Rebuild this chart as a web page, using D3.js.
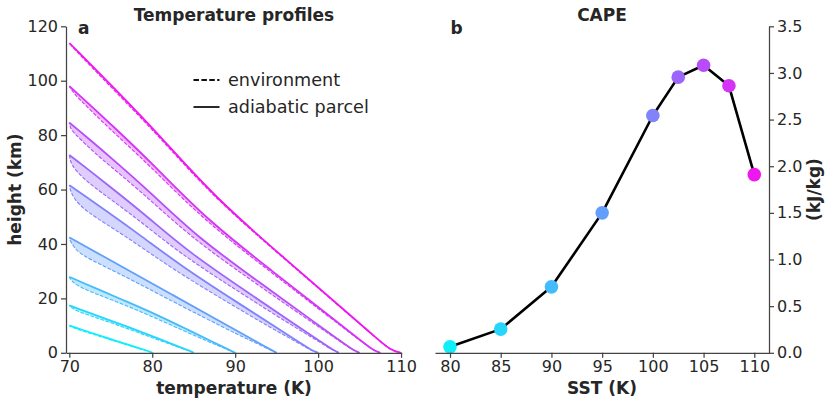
<!DOCTYPE html>
<html>
<head>
<meta charset="utf-8">
<script src="https://cdn.jsdelivr.net/npm/d3@7"></script>
<style>
  html, body { margin: 0; padding: 0; background: #fff; }
  svg { display: block; }
  text { font-family: "DejaVu Sans", sans-serif; fill: #262626; }
</style>
</head>
<body>
<svg id="chart" width="831" height="404"></svg>
<script>
// ---------------- data ----------------
const sst = [80, 85, 90, 95, 100, 102.5, 105, 107.5, 110];
const cape = [0.064, 0.254, 0.707, 1.50, 2.544, 2.955, 3.083, 2.862, 1.91];
const colors = ["#10eefa", "#28d6fb", "#44bcfc", "#629ffc", "#8083fb", "#9c66fa", "#b84cf8", "#d533f5", "#ef17f0"];

// heights (km) of the sampled points of each profile
const profileZ = [
  [0, 0.4, 0.8, 1.5, 3, 5, 7, 8.5, 9.3, 9.7, 10],
  [0, 0.5, 0.87, 2.61, 5.22, 8.7, 12.18, 14.79, 16.18, 16.88, 17.4],
  [0, 0.6, 1.4, 4.19, 8.37, 13.95, 19.53, 23.72, 25.95, 27.06, 27.9],
  [0, 0.8, 2.12, 6.36, 12.72, 21.2, 29.68, 36.04, 39.43, 41.13, 42.4],
  [0, 0.8, 3.08, 9.24, 18.48, 30.8, 43.12, 52.36, 57.29, 59.75, 61.6],
  [0, 1.0, 3.64, 10.9, 21.81, 36.35, 50.89, 61.8, 67.61, 70.52, 72.7],
  [0, 1.0, 4.23, 12.69, 25.38, 42.3, 59.22, 71.91, 78.68, 82.06, 84.6],
  [0, 1.0, 4.9, 14.7, 29.4, 49, 68.6, 83.3, 91.14, 95.06, 98],
  [0, 1.0, 5.69, 17.07, 34.14, 56.9, 79.66, 96.73, 105.83, 110.39, 113.8]
];
// adiabatic parcel temperature (K)
const parcelT = [
  [80, 79.75, 79.34, 78.61, 77.07, 75, 73, 71.5, 70.7, 70.3, 70],
  [85, 84.7, 84.39, 82.92, 80.73, 77.8, 74.68, 72.34, 71.09, 70.47, 70],
  [90, 89.6, 89.06, 87.18, 84.36, 80.6, 76.36, 73.18, 71.48, 70.64, 70],
  [95, 94.5, 93.72, 91.23, 87.49, 82.5, 77.5, 73.75, 71.75, 70.75, 70],
  [100, 99.3, 98.14, 95.0, 90.28, 84.0, 78.6, 74.35, 72.04, 70.88, 70],
  [102.5, 101.8, 100.52, 96.98, 91.71, 84.65, 79.09, 74.61, 72.17, 70.94, 70],
  [105, 104.2, 102.74, 98.91, 93.16, 85.5, 79.7, 74.95, 72.33, 71.01, 70],
  [107.5, 106.6, 104.97, 100.88, 94.74, 86.55, 80.33, 75.26, 72.48, 71.07, 70],
  [110, 108.7, 106.93, 102.63, 96.19, 87.6, 80.96, 75.58, 72.63, 71.14, 70]
];
// environment temperature (K)
const envT = [
  [80, 79.73, 79.3, 78.49, 76.88, 74.74, 72.68, 71.06, 70.45, 70.12, 70],
  [85, 84.66, 84.31, 82.64, 80.29, 77.2, 73.96, 71.34, 70.45, 70.12, 70],
  [90, 89.53, 88.92, 86.69, 83.59, 79.55, 75.1, 71.43, 70.45, 70.12, 70],
  [95, 94.4, 93.52, 90.53, 86.39, 81.0, 75.7, 71.25, 70.45, 70.12, 70],
  [100, 99.2, 97.93, 94.26, 89.12, 82.42, 76.71, 71.72, 70.45, 70.12, 70],
  [102.5, 101.72, 100.35, 96.38, 90.77, 83.37, 77.56, 72.48, 70.55, 70.12, 70],
  [105, 104.15, 102.63, 98.52, 92.55, 84.67, 78.71, 73.57, 71.28, 70.13, 70],
  [107.5, 106.57, 104.91, 100.67, 94.41, 86.1, 79.79, 74.51, 71.91, 70.59, 70],
  [110, 108.69, 106.91, 102.56, 96.08, 87.45, 80.78, 75.33, 72.44, 70.98, 70]
];

const tempTicks = [70, 80, 90, 100, 110];
const heightTicks = [0, 20, 40, 60, 80, 100, 120];
const sstTicks = [80, 85, 90, 95, 100, 105, 110];
const capeTicks = [0, 0.5, 1.0, 1.5, 2.0, 2.5, 3.0, 3.5];

// ---------------- layout ----------------
const svg = d3.select("#chart");
const spine = "#444";

// left panel scales
const xL = d3.scaleLinear().domain([69.6, 110.08]).range([66, 401.7]);
const yL = d3.scaleLinear().domain([0, 120]).range([352.8, 26.3]);
// right panel scales
const xR = d3.scaleLinear().domain([78.52, 111.45]).range([435, 769]);
const yR = d3.scaleLinear().domain([0, 3.5]).range([352.8, 26.3]);

function styleAxis(g) {
  g.selectAll("path.domain").attr("stroke", spine).attr("stroke-width", 1.25);
  g.selectAll(".tick line").attr("stroke", spine).attr("stroke-width", 1.25);
  g.selectAll(".tick text").attr("font-size", 16).attr("fill", "#262626")
    .attr("font-family", "DejaVu Sans");
}

// ---------------- left panel ----------------
const gL = svg.append("g");
const curve = d3.curveBasis;

const area = d3.area()
  .y(d => yL(d.z))
  .x0(d => xL(d.te))
  .x1(d => xL(d.tp))
  .curve(curve);
const lineP = d3.line().y(d => yL(d.z)).x(d => xL(d.tp)).curve(curve);
const lineE = d3.line().y(d => yL(d.z)).x(d => xL(d.te)).curve(curve);

sst.forEach((s, i) => {
  const pts = profileZ[i].map((z, j) => ({ z: z, tp: parcelT[i][j], te: envT[i][j] }));
  gL.append("path").attr("d", area(pts)).attr("fill", colors[i]).attr("fill-opacity", 0.33).attr("stroke", "none");
  gL.append("path").attr("d", lineE(pts)).attr("fill", "none").attr("stroke", colors[i])
    .attr("stroke-width", 1.1).attr("stroke-dasharray", "3.7,1.6");
  gL.append("path").attr("d", lineP(pts)).attr("fill", "none").attr("stroke", colors[i])
    .attr("stroke-width", 1.8);
});

gL.append("g").attr("transform", `translate(0,${yL(0)})`)
  .call(d3.axisBottom(xL).tickValues(tempTicks).tickSize(5).tickSizeOuter(0).tickPadding(3))
  .call(styleAxis);
gL.append("g").attr("transform", `translate(${xL.range()[0]},0)`)
  .call(d3.axisLeft(yL).tickValues(heightTicks).tickSize(5).tickSizeOuter(0).tickPadding(3))
  .call(styleAxis);

gL.append("text").attr("x", 234).attr("y", 20.7).attr("text-anchor", "middle")
  .attr("font-size", 17).attr("font-weight", "bold").text("Temperature profiles");
gL.append("text").attr("x", 78).attr("y", 34).attr("font-size", 17).attr("font-weight", "bold").text("a");
gL.append("text").attr("x", 234).attr("y", 393.5).attr("text-anchor", "middle")
  .attr("font-size", 17).attr("font-weight", "bold").text("temperature (K)");
gL.append("text").attr("transform", "translate(21,189.6) rotate(-90)").attr("text-anchor", "middle")
  .attr("font-size", 17).attr("font-weight", "bold").text("height (km)");

// legend
const leg = gL.append("g");
leg.append("line").attr("x1", 193.5).attr("x2", 219.5).attr("y1", 80).attr("y2", 80)
  .attr("stroke", "#111").attr("stroke-width", 1.8).attr("stroke-dasharray", "5.5,2.4");
leg.append("line").attr("x1", 193.5).attr("x2", 219.5).attr("y1", 107).attr("y2", 107)
  .attr("stroke", "#111").attr("stroke-width", 1.8);
leg.append("text").attr("x", 228).attr("y", 86).attr("font-size", 17.6).text("environment");
leg.append("text").attr("x", 228).attr("y", 112.8).attr("font-size", 17.6).text("adiabatic parcel");

// ---------------- right panel ----------------
const gR = svg.append("g");
const capePts = sst.map((s, i) => ({ s: s, c: cape[i], col: colors[i] }));

gR.append("path").datum(capePts)
  .attr("d", d3.line().x(d => xR(d.s)).y(d => yR(d.c)))
  .attr("fill", "none").attr("stroke", "#000").attr("stroke-width", 2.6)
  .attr("stroke-linejoin", "round");
gR.selectAll("circle").data(capePts).join("circle")
  .attr("cx", d => xR(d.s)).attr("cy", d => yR(d.c)).attr("r", 6.8)
  .attr("fill", d => d.col);

gR.append("g").attr("transform", `translate(0,${yR(0)})`)
  .call(d3.axisBottom(xR).tickValues(sstTicks).tickSize(5).tickSizeOuter(0).tickPadding(3))
  .call(styleAxis);
gR.append("g").attr("transform", `translate(${xR.range()[1]},0)`)
  .call(d3.axisRight(yR).tickValues(capeTicks).tickFormat(d3.format(".1f")).tickSize(5).tickSizeOuter(0).tickPadding(3))
  .call(styleAxis);

gR.append("text").attr("x", 602).attr("y", 20.7).attr("text-anchor", "middle")
  .attr("font-size", 17).attr("font-weight", "bold").text("CAPE");
gR.append("text").attr("x", 450.5).attr("y", 34).attr("font-size", 17).attr("font-weight", "bold").text("b");
gR.append("text").attr("x", 602).attr("y", 393.5).attr("text-anchor", "middle")
  .attr("font-size", 17).attr("font-weight", "bold").text("SST (K)");
gR.append("text").attr("transform", "translate(820,189.6) rotate(-90)").attr("text-anchor", "middle")
  .attr("font-size", 17).attr("font-weight", "bold").text("(kJ/kg)");
</script>
</body>
</html>
